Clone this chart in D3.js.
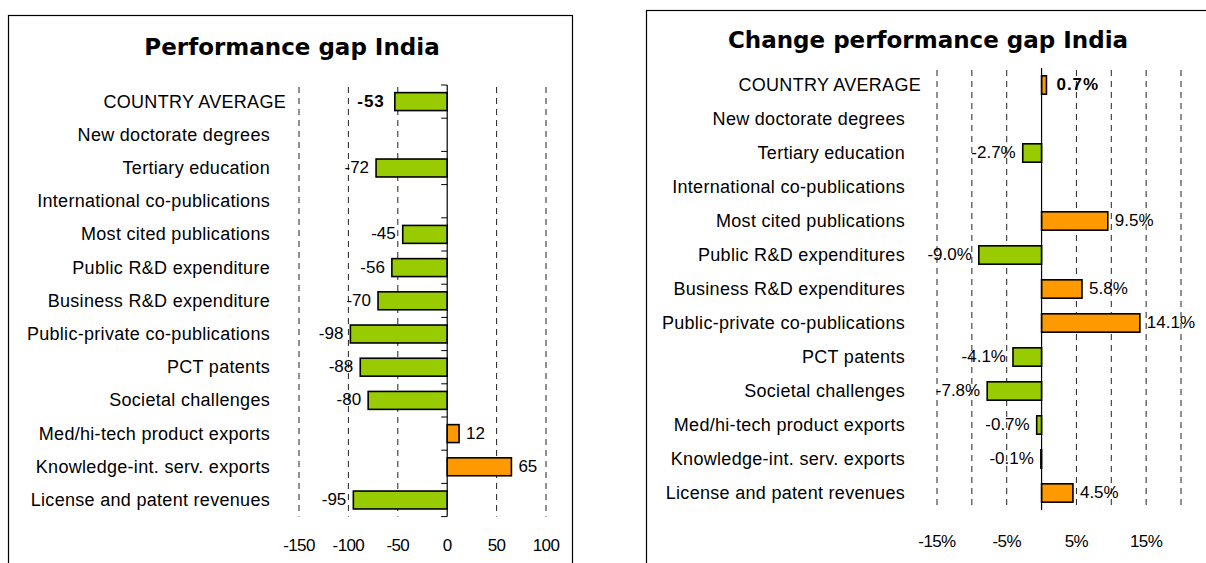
<!DOCTYPE html>
<html>
<head>
<meta charset="utf-8">
<script src="https://cdn.jsdelivr.net/npm/d3@7"></script>
<style>
  body { margin: 0; background: #fff; }
  svg { display: block; }
  .cat { font-family: "Liberation Sans", Arial, sans-serif; font-size: 18px; letter-spacing: 0.3px; fill: #000; }
  .val { font-family: "Liberation Sans", Arial, sans-serif; font-size: 17px; fill: #000; }
  .tick-lbl { font-family: "Liberation Sans", Arial, sans-serif; font-size: 17px; letter-spacing: -0.6px; fill: #000; }
  .title { font-family: "DejaVu Sans", Verdana, sans-serif; font-size: 23px; font-weight: bold; fill: #000; }
</style>
</head>
<body>
<svg width="1206" height="563"></svg>
<script>
var gapCategories = ["COUNTRY AVERAGE", "New doctorate degrees", "Tertiary education",
  "International co-publications", "Most cited publications", "Public R&D expenditure",
  "Business R&D expenditure", "Public-private co-publications", "PCT patents",
  "Societal challenges", "Med/hi-tech product exports", "Knowledge-int. serv. exports",
  "License and patent revenues"];
var gapValues = [-53, null, -72, null, -45, -56, -70, -98, -88, -80, 12, 65, -95];
var gapTicks = [-150, -100, -50, 0, 50, 100];
var gapTickLabels = [-150, -100, -50, 0, 50, 100];

var changeCategories = ["COUNTRY AVERAGE", "New doctorate degrees", "Tertiary education",
  "International co-publications", "Most cited publications", "Public R&D expenditures",
  "Business R&D expenditures", "Public-private co-publications", "PCT patents",
  "Societal challenges", "Med/hi-tech product exports", "Knowledge-int. serv. exports",
  "License and patent revenues"];
var changeValues = [0.7, null, -2.7, null, 9.5, -9.0, 5.8, 14.1, -4.1, -7.8, -0.7, -0.1, 4.5];
var changeTicks = [-15, -10, -5, 0, 5, 10, 15, 20];
var changeTickLabels = [-15, -5, 5, 15];

var svg = d3.select("svg");

function drawPanel(p) {
  var g = svg.append("g");

  g.append("rect")
    .attr("x", p.box[0]).attr("y", p.box[1])
    .attr("width", p.box[2]).attr("height", p.box[3])
    .attr("fill", "none").attr("stroke", "#000").attr("stroke-width", 1.2);

  g.append("text").attr("class", "title")
    .attr("x", p.titleX).attr("y", p.titleY)
    .attr("text-anchor", "middle")
    .text(p.title);

  var x = d3.scaleLinear().domain(p.domain).range(p.xRange);
  var y = d3.scaleBand().domain(p.categories).range(p.yRange)
    .paddingInner(0.46).paddingOuter(0.23);
  var top = p.yRange[0], bottom = p.yRange[1];
  var step = y.step();

  // dashed grid
  g.selectAll(".grid")
    .data(p.ticks.filter(function(d) { return d !== 0; }))
    .enter().append("line")
    .attr("class", "grid")
    .attr("x1", function(d) { return x(d); })
    .attr("x2", function(d) { return x(d); })
    .attr("y1", top + 2).attr("y2", bottom)
    .attr("stroke", "#222").attr("stroke-width", 1)
    .attr("stroke-dasharray", "6,5");

  // category labels
  g.selectAll(".cat")
    .data(p.categories)
    .enter().append("text")
    .attr("class", "cat")
    .attr("x", function(d, i) { return p.labelX + (i === 0 ? p.firstShift : 0); })
    .attr("y", function(d) { return y(d) + y.bandwidth() / 2 + 6; })
    .attr("text-anchor", "end")
    .text(function(d) { return d; });

  var rows = p.values.map(function(v, i) { return { cat: p.categories[i], v: v, i: i }; })
    .filter(function(d) { return d.v !== null; });

  g.selectAll(".bar")
    .data(rows)
    .enter().append("rect")
    .attr("class", "bar")
    .attr("x", function(d) { return x(Math.min(0, d.v)); })
    .attr("y", function(d) { return y(d.cat); })
    .attr("width", function(d) { return Math.abs(x(d.v) - x(0)); })
    .attr("height", y.bandwidth())
    .attr("fill", function(d) { return d.v < 0 ? "#99cc00" : "#ff9900"; })
    .attr("stroke", "#000").attr("stroke-width", 1.6);

  // zero axis
  g.append("line")
    .attr("x1", x(0)).attr("x2", x(0))
    .attr("y1", top).attr("y2", bottom)
    .attr("stroke", "#000").attr("stroke-width", 1.2);

  if (p.axisTicks) {
    g.selectAll(".ytick")
      .data(d3.range(p.categories.length + 1))
      .enter().append("line")
      .attr("x1", x(0) - 6).attr("x2", x(0))
      .attr("y1", function(i) { return top + i * step; })
      .attr("y2", function(i) { return top + i * step; })
      .attr("stroke", "#000").attr("stroke-width", 1);
  }

  g.selectAll(".val")
    .data(rows)
    .enter().append("text")
    .attr("class", "val")
    .attr("x", function(d) {
      var gap = d.i === 0 ? 10 : 7;
      return d.v < 0 ? x(d.v) - gap : x(d.v) + gap;
    })
    .attr("y", function(d) { return y(d.cat) + y.bandwidth() / 2 + 5; })
    .attr("text-anchor", function(d) { return d.v < 0 ? "end" : "start"; })
    .attr("font-weight", function(d) { return d.i === 0 ? "bold" : null; })
    .attr("letter-spacing", function(d) { return d.i === 0 ? "1px" : null; })
    .text(function(d) { return p.fmt(d.v); });

  g.selectAll(".tick-lbl")
    .data(p.tickLabels)
    .enter().append("text")
    .attr("class", "tick-lbl")
    .attr("x", function(d) { return x(d); })
    .attr("y", p.tickY)
    .attr("text-anchor", "middle")
    .text(function(d) { return p.tickFmt(d); });
}

drawPanel({
  box: [8.5, 15.5, 564, 560],
  title: "Performance gap India", titleX: 292, titleY: 55,
  categories: gapCategories, values: gapValues,
  domain: [-150, 100], xRange: [299, 546],
  yRange: [85, 516.6],
  ticks: gapTicks, tickLabels: gapTickLabels, tickY: 551,
  labelX: 270, firstShift: 16, axisTicks: true,
  fmt: function(v) { return String(v); },
  tickFmt: function(v) { return String(v); }
});

drawPanel({
  box: [646.5, 10.5, 600, 570],
  title: "Change performance gap India", titleX: 928, titleY: 48,
  categories: changeCategories, values: changeValues,
  domain: [-15, 20], xRange: [937, 1181],
  yRange: [68, 510],
  ticks: changeTicks, tickLabels: changeTickLabels, tickY: 547,
  labelX: 905, firstShift: 16, axisTicks: false,
  fmt: function(v) { return v.toFixed(1) + "%"; },
  tickFmt: function(v) { return v + "%"; }
});
</script>
</body>
</html>
